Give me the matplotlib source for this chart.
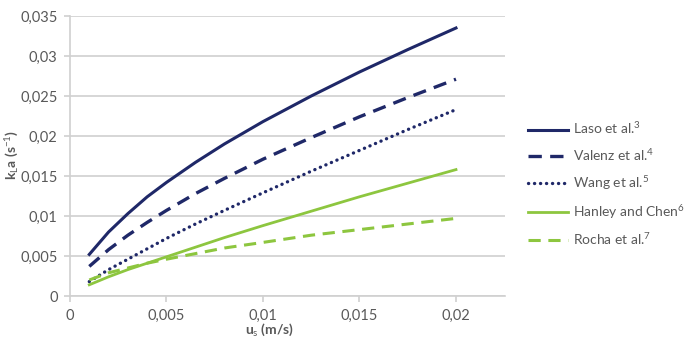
import matplotlib
matplotlib.use("Agg")
import matplotlib.pyplot as plt

plt.rcParams['font.family'] = ['Lato', 'DejaVu Sans']
plt.rcParams['mathtext.fontset'] = 'custom'
plt.rcParams['mathtext.rm'] = 'Lato'
plt.rcParams['mathtext.it'] = 'Lato'
plt.rcParams['mathtext.bf'] = 'Lato:bold'

us = [0.001, 0.002, 0.003, 0.004, 0.005, 0.0065, 0.008, 0.01, 0.0125, 0.015, 0.0175, 0.02]
laso = [0.0052, 0.0080, 0.0103, 0.0124, 0.0142, 0.0167, 0.0190, 0.0218, 0.0250, 0.0280, 0.0308, 0.0335]
valenz = [0.0037, 0.0058, 0.0076, 0.0092, 0.0107, 0.0128, 0.0147, 0.0171, 0.0198, 0.0224, 0.0248, 0.0271]
wang = [0.0018, 0.0033, 0.0046, 0.0059, 0.0072, 0.0090, 0.0107, 0.0129, 0.0156, 0.0182, 0.0208, 0.0233]
hanley = [0.0014, 0.0024, 0.0033, 0.0041, 0.0049, 0.0061, 0.0073, 0.0088, 0.0106, 0.0124, 0.0141, 0.0158]
rocha = [0.0020, 0.0029, 0.0035, 0.0041, 0.0046, 0.0053, 0.0060, 0.0067, 0.0076, 0.0083, 0.0090, 0.0097]

labels = ['Laso et al.$^{3}$', 'Valenz et al.$^{4}$', 'Wang et al.$^{5}$',
          'Hanley and Chen$^{6}$', 'Rocha et al.$^{7}$']
xticks = [0, 0.005, 0.01, 0.015, 0.02]
xticklabels = ['0', '0,005', '0,01', '0,015', '0,02']
yticks = [0, 0.005, 0.01, 0.015, 0.02, 0.025, 0.03, 0.035]
yticklabels = ['0', '0,005', '0,01', '0,015', '0,02', '0,025', '0,03', '0,035']

navy = '#1f2868'
green = '#8dc63f'
grid_c = '#d0d0d0'
txt_c = '#595959'

fig = plt.figure(figsize=(6.86, 3.39), dpi=100)
ax = fig.add_axes([70/686, 1-296/339, 435/686, 280/339])

ax.plot(us, laso, color=navy, lw=2.2, ls='-', label=labels[0])
ax.plot(us, valenz, color=navy, lw=2.4, ls=(0, (4, 2.5)), label=labels[1])
ax.plot(us, wang, color=navy, lw=2.4, ls=(0, (0.05, 1.75)), dash_capstyle='round',
        solid_capstyle='round', label=labels[2])
ax.plot(us, hanley, color=green, lw=2.0, ls='-', label=labels[3])
ax.plot(us, rocha, color=green, lw=2.2, ls=(0, (4, 2.5)), label=labels[4])

ax.set_xlim(0, 0.02254)
ax.set_ylim(0, 0.035)
ax.set_xticks(xticks)
ax.set_xticklabels(xticklabels)
ax.set_yticks(yticks)
ax.set_yticklabels(yticklabels)
ax.grid(axis='y', color=grid_c, lw=1.2)
ax.set_axisbelow(True)
for s in ['top', 'right']:
    ax.spines[s].set_visible(False)
for s in ['left', 'bottom']:
    ax.spines[s].set_color(grid_c)
    ax.spines[s].set_linewidth(1.2)
ax.tick_params(axis='both', colors=grid_c, labelcolor=txt_c, labelsize=10.5, length=4, width=1.2, direction='out')
ax.tick_params(axis='x', pad=5)
ax.tick_params(axis='y', pad=5)

fig.text(12/686, 1-155/339, 'k$_{L}$a (s$^{-1}$)', rotation=90, ha='center', va='center',
         color=txt_c, fontsize=10, fontweight='bold')
fig.text(270/686, 0.002, 'u$_{s}$ (m/s)', ha='center', va='bottom', color=txt_c,
         fontsize=10, fontweight='bold')

leg = fig.legend(loc='upper left', bbox_to_anchor=(515/686, 1-108/339), frameon=False,
                 fontsize=10, handlelength=2.9, handletextpad=0.4, labelspacing=0.78,
                 labelcolor=txt_c)

fig.savefig('out.png', dpi=100)
